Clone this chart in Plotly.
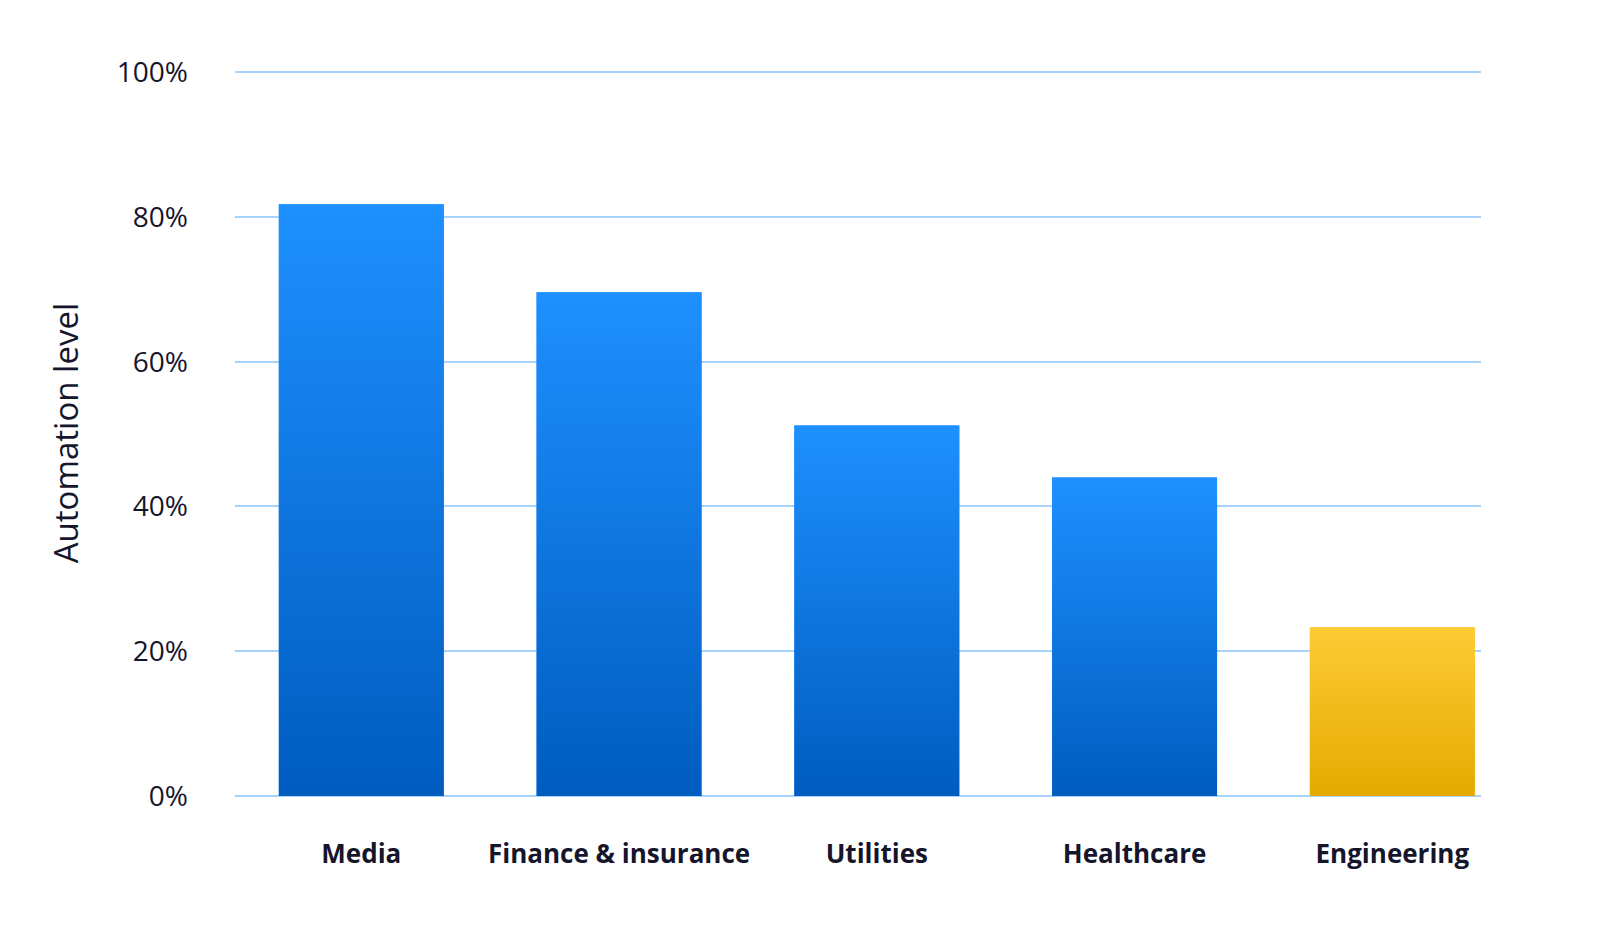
import plotly.graph_objects as go

categories = ["Media", "Finance & insurance", "Utilities", "Healthcare", "Engineering"]
values = [0.8175, 0.696, 0.512, 0.44, 0.233]
highlight = [False, False, False, False, True]
y_ticks = [0, 0.2, 0.4, 0.6, 0.8, 1.0]

BLUE_TOP, BLUE_BOTTOM = "#1e90ff", "#005cbf"
GOLD_TOP, GOLD_BOTTOM = "#fdcb35", "#e4aa00"
BAR_W = 0.64
TEXT = "#15152c"
GRID = "#a6d2fb"

positions = list(range(len(categories)))

fig = go.Figure()
fig.add_trace(go.Bar(
    x=positions, y=values, width=BAR_W,
    marker=dict(color=[GOLD_TOP if h else BLUE_TOP for h in highlight], line=dict(width=0)),
    hoverinfo="skip", showlegend=False,
))

# gradient overlays for each bar, derived from the data
for p, v, h in zip(positions, values, highlight):
    top, bottom = (GOLD_TOP, GOLD_BOTTOM) if h else (BLUE_TOP, BLUE_BOTTOM)
    fig.add_trace(go.Scatter(
        x=[p - BAR_W / 2, p + BAR_W / 2, p + BAR_W / 2, p - BAR_W / 2, p - BAR_W / 2],
        y=[0, 0, v, v, 0],
        mode="lines", fill="toself", line=dict(width=0),
        fillgradient=dict(type="vertical", colorscale=[[0, bottom], [1, top]]),
        hoverinfo="skip", showlegend=False,
    ))

fig.update_layout(
    width=1608, height=931,
    margin=dict(l=235, r=127, t=70, b=135),
    paper_bgcolor="white", plot_bgcolor="white",
    font=dict(family="Open Sans", color=TEXT),
    xaxis=dict(
        range=[-0.49, 4.344],
        tickmode="array", tickvals=positions, ticktext=[f"<b>{c}</b>" for c in categories],
        tickfont=dict(size=26, color=TEXT),
        showgrid=False, zeroline=False, showline=False,
        ticks="", ticklabelstandoff=40,
    ),
    yaxis=dict(
        range=[0, 1.003],
        tickmode="array", tickvals=y_ticks, tickformat=".0%",
        tickfont=dict(size=28, color=TEXT),
        showgrid=True, gridcolor=GRID, gridwidth=2,
        zeroline=True, zerolinecolor=GRID, zerolinewidth=2,
        showline=False, ticks="", ticklabelstandoff=46,
        title=dict(text="Automation level", font=dict(size=33, color=TEXT), standoff=28),
    ),
)

fig.write_html("out.html")
